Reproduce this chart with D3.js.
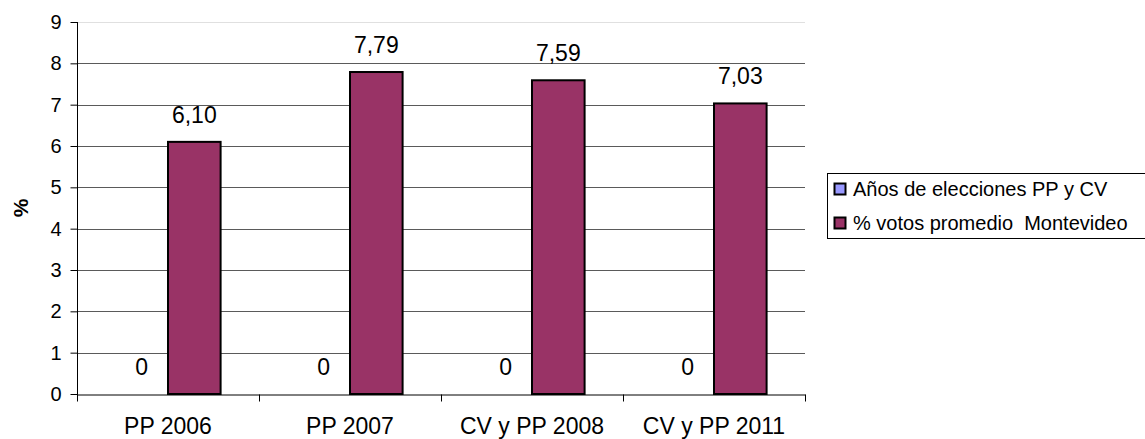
<!DOCTYPE html>
<html>
<head>
<meta charset="utf-8">
<script src="https://cdn.jsdelivr.net/npm/d3@7"></script>
<style>
  body { margin: 0; background: #fff; }
  svg { display: block; font-family: "Liberation Sans", Arial, sans-serif; }
</style>
</head>
<body>
<div id="viz"></div>
<script>
const width = 1145;
const height = 439;
const margin = {top: 22, right: 340, bottom: 45, left: 77};

// data
const categories = ['PP 2006', 'PP 2007', 'CV y PP 2008', 'CV y PP 2011'];
const seriesNames = ['Años de elecciones PP y CV', '% votos promedio  Montevideo'];
const seriesAnos = [0, 0, 0, 0];
const seriesVotos = [6.10, 7.79, 7.59, 7.03];
const seriesColors = ['#9999FF', '#993366'];
const yTicks = [0, 1, 2, 3, 4, 5, 6, 7, 8, 9];

const series = [
  { key: 'anos', name: seriesNames[0], values: seriesAnos, color: seriesColors[0] },
  { key: 'votos', name: seriesNames[1], values: seriesVotos, color: seriesColors[1] },
];

const fmt = v => v === 0 ? '0' : d3.format('.2f')(v).replace('.', ',');

const svg = d3.select('#viz')
  .append('svg')
    .attr('width', width)
    .attr('height', height);

const plotRight = width - margin.right; // 805

const scaleX = d3.scaleBand()
  .domain(categories)
  .range([margin.left, plotRight])
  .padding(0);

const scaleXSub = d3.scaleBand()
  .domain(series.map(s => s.key))
  .range([0, scaleX.bandwidth()])
  .paddingInner(0)
  .paddingOuter(0.73);

const scaleY = d3.scaleLinear()
  .domain([0, 9])
  .range([height - margin.bottom, margin.top]);

// gridlines
svg.append('g')
  .selectAll('line')
  .data(yTicks.filter(t => t > 0))
  .join('line')
    .attr('x1', margin.left)
    .attr('x2', plotRight)
    .attr('y1', d => Math.round(scaleY(d)) + 0.5)
    .attr('y2', d => Math.round(scaleY(d)) + 0.5)
    .attr('stroke', d => d === 9 ? '#e0e0e0' : '#5a5a5a')
    .attr('stroke-width', 1);

// bars
const groups = svg.append('g')
  .selectAll('g')
  .data(series)
  .join('g');

groups.selectAll('rect')
  .data(s => s.values.map((v, i) => ({ key: s.key, color: s.color, value: v, cat: categories[i] })))
  .join('rect')
    .attr('x', d => scaleX(d.cat) + scaleXSub(d.key))
    .attr('y', d => scaleY(d.value))
    .attr('width', scaleXSub.bandwidth())
    .attr('height', d => scaleY(0) - scaleY(d.value))
    .attr('fill', d => d.color)
    .attr('stroke', '#000')
    .attr('stroke-width', d => d.value === 0 ? 0 : 2);

// value labels
groups.selectAll('text')
  .data(s => s.values.map((v, i) => ({ key: s.key, value: v, cat: categories[i] })))
  .join('text')
    .attr('x', d => scaleX(d.cat) + scaleXSub(d.key) + scaleXSub.bandwidth() / 2)
    .attr('y', d => scaleY(d.value) - 19)
    .attr('text-anchor', 'middle')
    .attr('font-size', '23px')
    .attr('fill', '#000')
    .text(d => fmt(d.value));

// Y axis
const axisLeft = d3.axisLeft(scaleY)
  .tickValues(yTicks)
  .tickSize(7)
  .tickPadding(9)
  .tickSizeOuter(0);
svg.append('g')
    .attr('transform', `translate(${margin.left + 0.5},0)`)
    .call(axisLeft)
    .call(g => g.selectAll('text').attr('font-size', '20px').attr('fill', '#000'))
    .call(g => g.selectAll('line, path').attr('stroke', '#000'))
    .call(g => g.select('.domain').attr('d', `M0,${margin.top}V${scaleY(0) + 7}`));

// X axis: ticks between categories
const scaleBoundary = d3.scaleLinear()
  .domain([0, categories.length])
  .range([margin.left, plotRight]);
svg.append('g')
    .attr('transform', `translate(0,${Math.round(scaleY(0)) + 0.5})`)
    .call(d3.axisBottom(scaleBoundary).ticks(categories.length).tickFormat('').tickSize(7).tickSizeOuter(0))
    .call(g => g.selectAll('line, path').attr('stroke', '#000'));

// category labels
svg.append('g')
  .selectAll('text')
  .data(categories)
  .join('text')
    .attr('x', d => scaleX(d) + scaleX.bandwidth() / 2)
    .attr('y', 434)
    .attr('text-anchor', 'middle')
    .attr('font-size', '23px')
    .attr('fill', '#000')
    .text(d => d);

// Y title
svg.append('text')
    .attr('transform', `translate(28, 208) rotate(-90)`)
    .attr('text-anchor', 'middle')
    .attr('font-size', '21px')
    .attr('font-weight', 'bold')
    .text('%');

// legend
const legend = svg.append('g');
legend.append('rect')
    .attr('x', 827.5)
    .attr('y', 173.5)
    .attr('width', 340)
    .attr('height', 65)
    .attr('fill', '#fff')
    .attr('stroke', '#000');
const items = legend.selectAll('g')
  .data(series)
  .join('g')
    .attr('transform', (d, i) => `translate(834,${183 + i * 34})`);
items.append('rect')
    .attr('width', 11)
    .attr('height', 11)
    .attr('x', 0.5)
    .attr('y', 0.5)
    .attr('fill', d => d.color)
    .attr('stroke', '#000')
    .attr('stroke-width', 2);
items.append('text')
    .attr('x', 19)
    .attr('y', 13)
    .attr('font-size', '20px')
    .attr('fill', '#000')
    .style('white-space', 'pre')
    .text(d => d.name);
</script>
</body>
</html>
